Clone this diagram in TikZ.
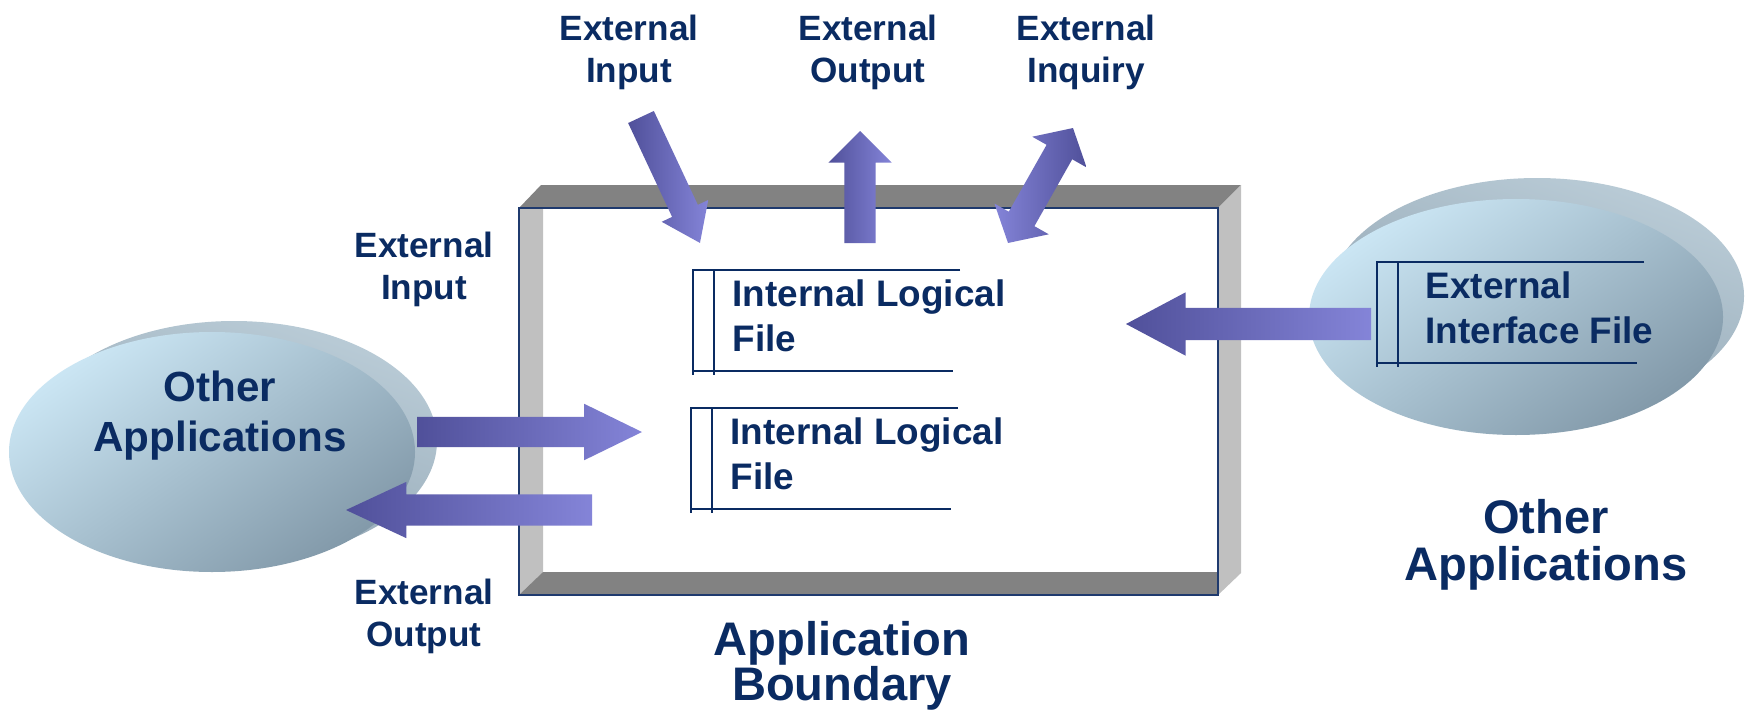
\documentclass[tikz,border=0pt]{standalone}
\usepackage{fontspec}
\setmainfont{Liberation Sans}
\usetikzlibrary{shapes.arrows,calc}
\definecolor{navytext}{HTML}{0A2B62}
\definecolor{frameline}{HTML}{1F3A6E}
\definecolor{arrowdark}{HTML}{50509A}
\definecolor{arrowlight}{HTML}{8484D8}
\definecolor{applight}{HTML}{CBE6F4}
\definecolor{appdark}{HTML}{8299A9}
\definecolor{rimlight}{HTML}{BACCD7}
\definecolor{rimdark}{HTML}{8EA2B0}
\definecolor{topgray}{HTML}{828282}
\definecolor{sidegray}{HTML}{C0C0C0}
\begin{document}
\begin{tikzpicture}
[x=0.1mm,y=-0.1mm,
  labeldecorate/.style={align=center,inner sep=0pt,text=navytext,
    font=\bfseries\fontsize{10}{12}\selectfont},
  bigdecorate/.style={align=center,inner sep=0pt,text=navytext,
    font=\bfseries\fontsize{13.4}{13.4}\selectfont},
  filedecorate/.style={align=left,inner sep=0pt,anchor=north west,text=navytext,
    font=\bfseries\fontsize{10.5}{12.8}\selectfont},
  filelinedecorate/.style={draw=navytext,line width=0.5pt},
  diskdecorate/.style={top color=applight,bottom color=appdark,shading angle=35},
  rimdecorate/.style={top color=rimlight,bottom color=rimdark,shading angle=-20},
  arrowdecorate/.style={single arrow,draw=none,left color=arrowdark,right color=arrowlight,
    inner xsep=0pt,outer sep=0pt,minimum width=0pt,sloped,allow upside down,anchor=tail}]
\path[use as bounding box,fill=white] (0,0) rectangle (1748,721);
%% other applications
\shade[rimdecorate] (234,441) ellipse [x radius=203, y radius=120];
\shade[diskdecorate] (212,452) ellipse [x radius=203, y radius=120];
\shade[rimdecorate] (1537,296) ellipse [x radius=207, y radius=118];
\shade[diskdecorate] (1516,317) ellipse [x radius=207, y radius=118];
%% application boundary
\fill[topgray] (519,208) -- (541,185) -- (1241,185) -- (1218,208) -- cycle;
\fill[sidegray] (1218,208) -- (1241,185) -- (1241,573) -- (1218,595) -- cycle;
\fill[sidegray] (519,208) -- (543,208) -- (543,572) -- (519,595) -- cycle;
\fill[topgray] (519,595) -- (543,572) -- (1218,572) -- (1218,595) -- cycle;
\draw[frameline,line width=0.6pt] (519,208) rectangle (1218,595);
%% files
\foreach \nodename/\x/\y/\dx/\txt in {ilfA/693/270/39/{Internal Logical\\File},
  ilfB/691/408/39/{Internal Logical\\File}, eif/1377/262/48/{External\\Interface File}} {
  \draw[filelinedecorate] (\x+267,\y) -- (\x,\y) -- (\x,\y+105);
  \draw[filelinedecorate] (\x+21,\y) -- (\x+21,\y+105);
  \draw[filelinedecorate] (\x,\y+101) -- (\x+260,\y+101);
  \node[filedecorate] (\nodename) at (\x+\dx,\y+8.6) {\txt};
}
%% arrow ends
\foreach \nodename/\x/\y in {eiTopTail/641/117, eiTopTip/700/243, eoTopTail/860/243,
  eoTopTip/860/131, eiLeftTail/417/432, eiLeftTip/642/432, eoLeftTail/592/510,
  eoLeftTip/346/510, eifTail/1371/324, eifTip/1126/324, eqLow/1008/243, eqHigh/1073/128} {
  \coordinate (\nodename) at (\x,\y);
}
%% arrows
\foreach \startnode/\endnode/\ys/\ext/\ang in {eiTopTail/eiTopTip/1.35mm/1.15mm/72,
  eoTopTail/eoTopTip/1.5mm/1.6mm/90, eiLeftTail/eiLeftTip/1.45mm/1.3mm/52,
  eoLeftTail/eoLeftTip/1.5mm/1.25mm/50, eifTail/eifTip/1.55mm/1.55mm/56} {
  \path let \p1=($(\endnode)-(\startnode)$), \n1={veclen(\x1,\y1)} in
    (\startnode) -- node[arrowdecorate,pos=0,inner ysep=\ys,single arrow head extend=\ext,
      single arrow tip angle=\ang,minimum height=\n1] (\startnode-arrow) {} (\endnode);
}
\path let \p1=($(eqHigh)-(eqLow)$), \n1={veclen(\x1,\y1)} in
  (eqLow) -- node[double arrow,draw=none,left color=arrowlight,right color=arrowdark,
    inner xsep=0pt,inner ysep=1.4mm,outer sep=0pt,minimum width=0pt,
    double arrow head extend=1.65mm,double arrow tip angle=97,minimum height=\n1,
    sloped,allow upside down,pos=0.5] (eqArrow) {} (eqHigh);
%% labels
\foreach \nodename/\x/\y/\txt in {eiTop/629/52/{External\\Input},
  eoTop/868/52/{External\\Output}, eqTop/1086/52/{External\\Inquiry},
  eiLeft/424/269/{External\\Input}, eoLeft/424/616/{External\\Output}} {
  \node[labeldecorate] (\nodename) at (\x,\y) {\txt};
}
\node[labeldecorate,font=\bfseries\fontsize{12}{14.2}\selectfont] (leftApp) at (220,416)
  {Other\\Applications};
\node[bigdecorate] (rightApp) at (1546,545) {Other\\Applications};
\node[bigdecorate,font=\bfseries\fontsize{13.4}{12.8}\selectfont] (boundary) at (842,666)
  {Application\\Boundary};
\end{tikzpicture}
\end{document}
